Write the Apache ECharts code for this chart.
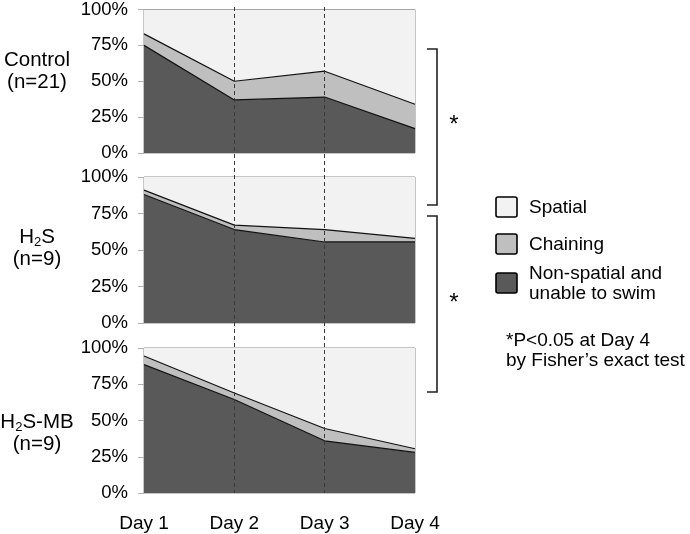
<!DOCTYPE html>
<html><head><meta charset="utf-8">
<script src="https://cdn.jsdelivr.net/npm/echarts@6/dist/echarts.min.js"></script>
<style>html,body{margin:0;padding:0;background:#fff}#c{width:690px;height:534px}</style>
</head><body><div id="c"></div>
<script>
const days = ['Day 1', 'Day 2', 'Day 3', 'Day 4'];
const yTicks = [0, 25, 50, 75, 100];
const seriesNames = ['Non-spatial and\nunable to swim', 'Chaining', 'Spatial'];

const controlNonSpatial = [75, 37, 39, 17];
const controlChaining = [8, 13, 18, 17];
const controlSpatial = [17, 50, 43, 66];

const h2sNonSpatial = [88, 64, 55.5, 55.5];
const h2sChaining = [3, 3, 8.5, 2.5];
const h2sSpatial = [9, 33, 36, 42];

const mbNonSpatial = [88.5, 64.5, 36, 28];
const mbChaining = [6, 4.5, 8.5, 2.5];
const mbSpatial = [5.5, 31, 55.5, 69.5];

const groupLabels = ['Control\n(n=21)', 'H{sub|2}S\n(n=9)', 'H{sub|2}S-MB\n(n=9)'];
const noteLines = ['*P<0.05 at Day 4', 'by Fisher\u2019s exact test'];

const FONT = 'Liberation Sans, Arial, Helvetica, sans-serif';
const colors = ['#595959', '#bfbfbf', '#f2f2f2'];
const grids = [
  { left: 144, width: 271, top: 7, height: 146 },
  { left: 144, width: 271, top: 177, height: 146 },
  { left: 144, width: 271, top: 348, height: 145 }
];
const panelData = [
  [controlNonSpatial, controlChaining, controlSpatial],
  [h2sNonSpatial, h2sChaining, h2sSpatial],
  [mbNonSpatial, mbChaining, mbSpatial]
];

const option = {
  backgroundColor: '#fff',
  animation: false,
  textStyle: { fontFamily: FONT },
  grid: grids.map(g => Object.assign({ show: true, borderColor: '#8c8c8c', borderWidth: 1, backgroundColor: 'transparent', containLabel: false }, g))
    .concat([{ left: 144, width: 271, top: 7, height: 486, show: false }]),
  xAxis: [0, 1, 2].map(i => ({
    type: 'category', gridIndex: i, data: days, boundaryGap: false,
    axisLine: { show: false }, axisTick: { show: false }, splitLine: { show: false },
    axisLabel: { show: i === 2, fontSize: 19, color: '#000', margin: 21, fontFamily: FONT }
  })).concat([{
    type: 'category', gridIndex: 3, data: days, boundaryGap: false, z: 10,
    axisLine: { show: false }, axisTick: { show: false }, axisLabel: { show: false },
    splitLine: { show: true, interval: (idx) => idx === 1 || idx === 2, lineStyle: { color: '#3a3a3a', width: 1, type: [4, 3] } }
  }]),
  yAxis: [0, 1, 2].map(i => ({
    type: 'value', gridIndex: i, min: yTicks[0], max: yTicks[yTicks.length - 1], interval: 25,
    axisLine: { show: false }, axisTick: { show: true, length: 6, lineStyle: { color: '#b0b0b0', width: 1 } }, splitLine: { show: false },
    axisLabel: { fontSize: 18.5, color: '#000', margin: 16, formatter: '{value}%', fontFamily: FONT }
  })).concat([{ type: 'value', gridIndex: 3, min: 0, max: 100, show: false }]),
  series: []
};

panelData.forEach((arrs, gi) => {
  arrs.forEach((arr, si) => {
    option.series.push({
      name: seriesNames[si], type: 'line', xAxisIndex: gi, yAxisIndex: gi,
      stack: 'g' + gi, data: arr, symbol: 'none', smooth: false,
      lineStyle: { color: '#111', width: si === 2 ? 0 : 1.2 },
      areaStyle: { color: colors[si], opacity: 1 },
      z: 2
    });
  });
});

const legendItems = [
  { text: 'Spatial', color: colors[2], boxY: 197, textY: 208 },
  { text: 'Chaining', color: colors[1], boxY: 234, textY: 245 },
  { text: 'Non-spatial and\nunable to swim', color: colors[0], boxY: 273, textY: 284 }
];

const graphic = [];
const labelY = [71, 248, 433];
groupLabels.forEach((t, i) => {
  graphic.push({
    type: 'text', x: 37, y: labelY[i],
    style: {
      text: t, x: 0, y: 0, align: 'center', verticalAlign: 'middle',
      fontSize: 20.5, fontFamily: FONT, fill: '#000', lineHeight: 22,
      rich: { sub: { fontSize: 13, lineHeight: 13, padding: [10, 0, 0, 0], fontFamily: FONT, fill: '#000' } }
    }
  });
});
legendItems.forEach(it => {
  graphic.push({ type: 'rect', shape: { x: 496, y: it.boxY, width: 21, height: 20, r: 2 },
    style: { fill: it.color, stroke: '#000', lineWidth: 1.6 } });
  graphic.push({ type: 'text', x: 529, y: it.textY,
    style: { text: it.text, fontSize: 19, lineHeight: 19.5, fontFamily: FONT, fill: '#000', align: 'left', verticalAlign: 'middle' } });
});
graphic.push({ type: 'text', x: 506, y: 351,
  style: { text: noteLines.join('\n'), fontSize: 19, lineHeight: 20, fontFamily: FONT, fill: '#000', align: 'left', verticalAlign: 'middle' } });
graphic.push({ type: 'polyline', shape: { points: [[427, 49], [437, 49], [437, 205], [427, 205]] }, style: { stroke: '#222', lineWidth: 1.6, fill: null } });
graphic.push({ type: 'polyline', shape: { points: [[427, 216], [437, 216], [437, 392], [427, 392]] }, style: { stroke: '#222', lineWidth: 1.6, fill: null } });
graphic.push({ type: 'text', x: 454, y: 125, style: { text: '*', fontSize: 24, fontFamily: FONT, fill: '#000', align: 'center', verticalAlign: 'middle' } });
graphic.push({ type: 'text', x: 454, y: 303, style: { text: '*', fontSize: 24, fontFamily: FONT, fill: '#000', align: 'center', verticalAlign: 'middle' } });
option.graphic = graphic;

const chart = echarts.init(document.getElementById('c'), null, { renderer: 'canvas' });
chart.setOption(option);
</script>
</body></html>
